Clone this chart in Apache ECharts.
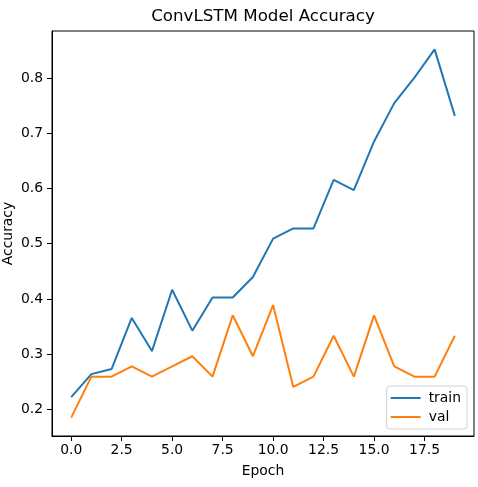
<!DOCTYPE html>
<html>
<head>
<meta charset="utf-8">
<script src="https://cdn.jsdelivr.net/npm/echarts@6/dist/echarts.min.js"></script>
<style>
html,body{margin:0;padding:0;background:#fff;}
#chart{width:478px;height:487px;}
</style>
</head>
<body>
<div id="chart"></div>
<script>
const epochs = [0,1,2,3,4,5,6,7,8,9,10,11,12,13,14,15,16,17,18,19];
const trainAcc = [0.2222,0.2639,0.2731,0.3657,0.3056,0.4167,0.3426,0.4028,0.4028,0.4398,0.5093,0.5278,0.5278,0.6157,0.5972,0.6852,0.7546,0.8009,0.8519,0.7315];
const valAcc = [0.1852,0.2593,0.2593,0.2778,0.2593,0.2778,0.2963,0.2593,0.3704,0.2963,0.3889,0.2407,0.2593,0.3333,0.2593,0.3704,0.2778,0.2593,0.2593,0.3333];
const xTicks = [0,2.5,5,7.5,10,12.5,15,17.5];
const yTicks = [0.2,0.3,0.4,0.5,0.6,0.7,0.8];
const seriesNames = ['train','val'];
const titleText = 'ConvLSTM Model Accuracy';

const font = 'DejaVu Sans';
const chart = echarts.init(document.getElementById('chart'));
const xMin = -0.95, xMax = 19.95;
const allV = trainAcc.concat(valAcc);
const vMin = Math.min(...allV), vMax = Math.max(...allV);
const pad = (vMax - vMin) * 0.05;

chart.setOption({
  animation: false,
  textStyle: {fontFamily: font},
  graphic: [{
    type: 'text', x: 263, y: 17,
    style: {text: titleText, align: 'center', verticalAlign: 'middle', fontFamily: font, fontSize: 16.7, fill: '#000'}
  }],
  grid: {left: 52, top: 31, right: 4, bottom: 51, show: true, borderColor: '#000', borderWidth: 1, containLabel: false, outerBoundsMode: 'none'},
  legend: {
    data: seriesNames,
    orient: 'vertical',
    right: 11, bottom: 58,
    icon: 'rect',
    itemWidth: 30, itemHeight: 2, itemGap: 5,
    padding: [5, 6, 5, 4],
    borderColor: '#d0d0d0', borderWidth: 1, borderRadius: 3,
    backgroundColor: 'rgba(255,255,255,0.8)',
    textStyle: {fontFamily: font, fontSize: 13.9, color: '#000', padding: [0, 0, 0, 3]}
  },
  xAxis: {
    type: 'value', min: xMin, max: xMax,
    name: 'Epoch', nameLocation: 'middle', nameGap: 28, nameMoveOverlap: false,
    nameTextStyle: {fontFamily: font, fontSize: 13.9, color: '#000'},
    axisLine: {show: true, onZero: false, lineStyle: {color: '#000', width: 1}},
    axisTick: {show: true, inside: false, length: 5, customValues: xTicks, lineStyle: {color: '#000'}},
    axisLabel: {customValues: xTicks, margin: 7, color: '#000', fontFamily: font, fontSize: 13.9, formatter: v => v.toFixed(1)},
    splitLine: {show: false}
  },
  yAxis: {
    type: 'value', min: vMin - pad, max: vMax + pad,
    name: 'Accuracy', nameLocation: 'middle', nameGap: 37, nameMoveOverlap: false,
    nameTextStyle: {fontFamily: font, fontSize: 13.9, color: '#000'},
    axisLine: {show: true, onZero: false, lineStyle: {color: '#000', width: 1}},
    axisTick: {show: true, inside: false, length: 5, customValues: yTicks, lineStyle: {color: '#000'}},
    axisLabel: {customValues: yTicks, margin: 9, color: '#000', fontFamily: font, fontSize: 13.9, formatter: v => v.toFixed(1)},
    splitLine: {show: false}
  },
  series: [
    {name: seriesNames[0], type: 'line', data: epochs.map((e,i) => [e, trainAcc[i]]), showSymbol: false, symbol: 'none', lineStyle: {color: '#1f77b4', width: 2}, itemStyle: {color: '#1f77b4'}},
    {name: seriesNames[1], type: 'line', data: epochs.map((e,i) => [e, valAcc[i]]), showSymbol: false, symbol: 'none', lineStyle: {color: '#ff7f0e', width: 2}, itemStyle: {color: '#ff7f0e'}}
  ]
});
</script>
</body>
</html>
